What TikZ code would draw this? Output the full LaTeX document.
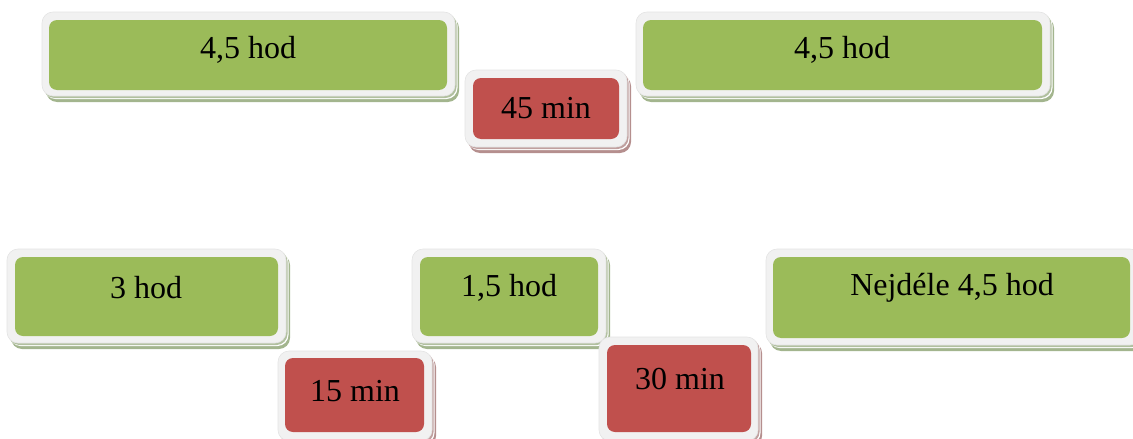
\documentclass[tikz,border=0pt]{standalone}
\usepackage{fontspec}
\setmainfont{Liberation Serif}
\definecolor{gfill}{HTML}{9BBB59}
\definecolor{rfill}{HTML}{C0504D}
\definecolor{gshadow}{HTML}{A3B58E}
\definecolor{rshadow}{HTML}{B58F8E}
\definecolor{frame}{HTML}{F1F1F1}
\definecolor{frameedge}{HTML}{E4E4E4}
\tikzset{
  lbl/.style={font=\fontsize{32}{37}\selectfont, text=black, inner sep=0pt, anchor=center},
  shadowrect/.style={rounded corners=11pt},
  framerect/.style={fill=frame, draw=frameedge, line width=0.6pt, rounded corners=11pt},
  innerrect/.style={rounded corners=8pt}
}
\newcommand{\mytbox}[9]{%
  % #1,#2 outer top-left; #3,#4 outer bottom-right; #5,#6 inner tl; #7,#8 inner br; #9 colour key
  \fill[shadowrect, fill=#9shadow] (#1+4,#2+5) rectangle (#3+4,#4+6);
  \fill[shadowrect, fill=white] (#1+2.5,#2+2.5) rectangle (#3+2.5,#4+3);
  \fill[shadowrect, fill=#9shadow!85!white] (#1+1.5,#2+1.5) rectangle (#3+1.5,#4+2);
  \draw[framerect] (#1,#2) rectangle (#3,#4);
  \fill[innerrect, fill=#9fill] (#5,#6) rectangle (#7,#8);
}
\begin{document}
\begin{tikzpicture}[x=1pt,y=-1pt]
\useasboundingbox (0,0) rectangle (1133,439);
\clip (0,0) rectangle (1133,439);
\mytbox{42}{12}{455}{96}{49}{20}{447}{90}{g}
\node[lbl] (a) at (248,50) {4,5 hod};
\mytbox{465}{70}{627}{147}{473}{78}{619}{139}{r}
\node[lbl] (b) at (546,108) {45 min};
\mytbox{636}{12}{1050}{96}{643}{20}{1042}{90}{g}
\node[lbl] (c) at (842,50) {4,5 hod};
\mytbox{7}{249}{286}{343}{15}{257}{278}{336}{g}
\node[lbl] (d) at (146,288) {3 hod};
\mytbox{412}{249}{606}{343}{420}{257}{598}{336}{g}
\node[lbl] (e) at (509,288) {1,5 hod};
\mytbox{766}{249}{1141}{345}{773}{257}{1130}{338}{g}
\node[lbl] (f) at (952,288) {Nejdéle 4,5 hod};
\mytbox{278}{351}{432}{441}{285}{358}{424}{432}{r}
\node[lbl] (g) at (355,391) {15 min};
\mytbox{599}{337}{758}{441}{607}{345}{751}{432}{r}
\node[lbl] (h) at (680,379) {30 min};
\end{tikzpicture}
\end{document}
